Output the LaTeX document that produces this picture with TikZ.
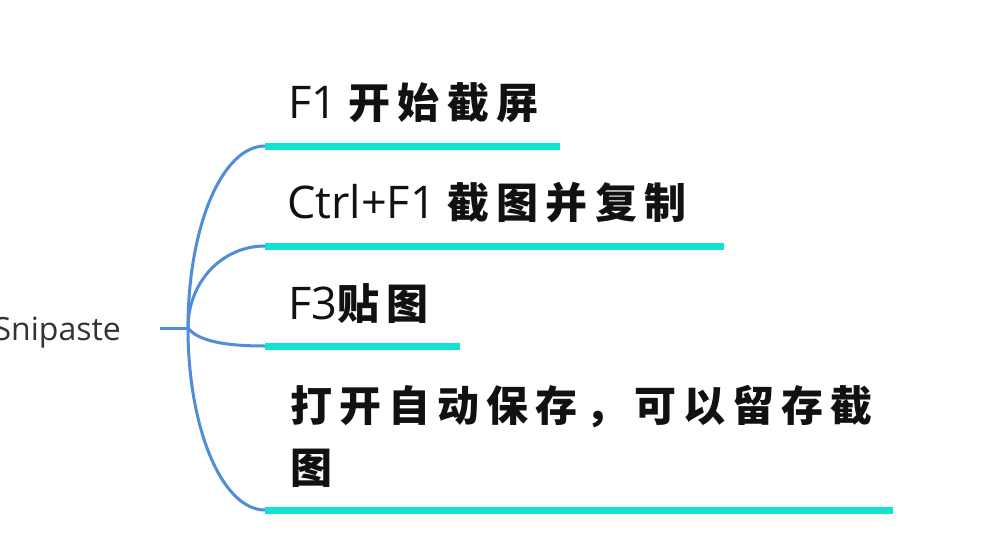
\documentclass[tikz,border=0pt]{standalone}
\usepackage{fontspec}
\setmainfont{Open Sans}
\newfontfamily\mylatf{Open Sans}
\newfontfamily\mycjkf[LetterSpace=17]{Noto Sans CJK SC}
\newcommand{\mylat}[1]{{\fontsize{45}{60}\selectfont\mylatf #1}}
\newcommand{\mycjk}[1]{{\fontsize{42}{60}\selectfont\mycjkf\bfseries #1}}
\definecolor{branchblue}{RGB}{80,140,215}
\definecolor{lineteal}{RGB}{14,228,208}
\definecolor{snipgray}{RGB}{51,51,51}
\definecolor{inkblack}{RGB}{17,17,17}
\tikzset{
  branch/.style={draw=branchblue, line width=3pt},
  uline/.style={draw=lineteal, line width=7pt, line cap=butt},
  lbl/.style={inner sep=0pt, text=inkblack, align=left},
}
\begin{document}
\begin{tikzpicture}[x=1pt,y=-1pt]
\useasboundingbox (0,0) rectangle (984,559);
\fill[white] (0,0) rectangle (984,559);
\clip (0,0) rectangle (984,559);
% root
\node[anchor=base east, inner sep=0pt, text=snipgray, font=\fontsize{32}{38}\selectfont] (root) at (121,340) {Snipaste};
\coordinate (rs) at (160,328);
\coordinate (hub) at (188,328);
% underline coordinates
\coordinate (u1s) at (265,146); \coordinate (u1e) at (560,146);
\coordinate (u2s) at (265,246); \coordinate (u2e) at (724,246);
\coordinate (u3s) at (265,346); \coordinate (u3e) at (460,346);
\coordinate (u4s) at (265,510); \coordinate (u4e) at (893,510);
% branches
\draw[branch] (rs) -- (hub);
\draw[branch] (hub) .. controls (188,227) and (222,146) .. (u1s);
\draw[branch] (hub) .. controls (188,282) and (222,246) .. (u2s);
\draw[branch] (hub) .. controls (198,341) and (225,346) .. (u3s);
\draw[branch] (hub) .. controls (188,428) and (222,510) .. (u4s);
% underlines
\draw[uline] (u1s) -- (u1e);
\draw[uline] (u2s) -- (u2e);
\draw[uline] (u3s) -- (u3e);
\draw[uline] (u4s) -- (u4e);
% labels
\node[lbl, anchor=base west] (t1) at (288,118) {\mylat{F1 }\mycjk{开始截屏}};
\node[lbl, anchor=base west] (t2) at (287,218) {\mylat{Ctrl+F1 }\mycjk{截图并复制}};
\node[lbl, anchor=base west] (t3) at (288,319) {\mylat{F3}\mycjk{贴图}};
\node[lbl, anchor=south west, text depth=0pt, font=\fontsize{42}{62}\selectfont\mycjkf\bfseries] (t4) at (290,484) {打开自动保存，可以留存截\\图};
\end{tikzpicture}
\end{document}
